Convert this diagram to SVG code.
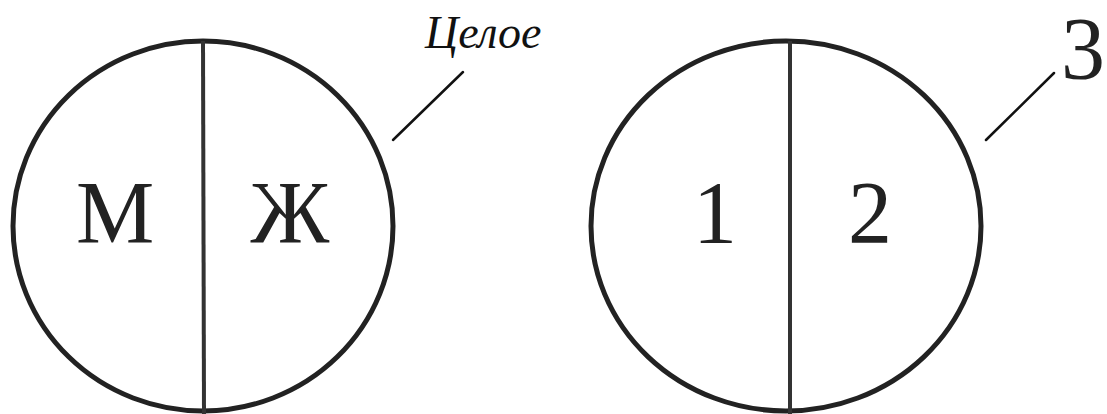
<svg xmlns="http://www.w3.org/2000/svg" width="1107" height="414" viewBox="0 0 1107 414">
<style>
.ring{fill:none;stroke:#222;stroke-width:5}
.div{stroke:#333;stroke-width:4}
.lead{stroke:#111;stroke-width:2.5;stroke-linecap:round}
.lbl{font-family:"Liberation Serif",serif;font-size:88px;fill:#222;text-anchor:middle}
.cap{font-family:"Liberation Serif",serif;font-style:italic;font-size:46px;fill:#111}
</style>
<rect width="1107" height="414" fill="#fff"/>
<g id="whole">
<ellipse class="ring" cx="203" cy="226" rx="190" ry="185"/>
<line class="div" x1="203" y1="41" x2="204" y2="414"/>
<text class="lbl" x="115" y="242">М</text>
<text class="lbl" x="290" y="242">Ж</text>
</g>
<g id="parts">
<ellipse class="ring" cx="786" cy="226" rx="195" ry="185"/>
<line class="div" x1="790" y1="41" x2="790" y2="414"/>
<text class="lbl" x="715" y="242">1</text>
<text class="lbl" x="870" y="242">2</text>
</g>
<g id="label-whole"><text class="cap" x="425" y="48">Целое</text></g>
<g id="label-3"><text class="lbl" x="1105" y="78" font-size="90" style="text-anchor:end">3</text></g>
<g id="connectors">
<line class="lead" x1="393" y1="140" x2="463" y2="72"/>
<line class="lead" x1="986" y1="140" x2="1054" y2="73"/>
</g>
</svg>
